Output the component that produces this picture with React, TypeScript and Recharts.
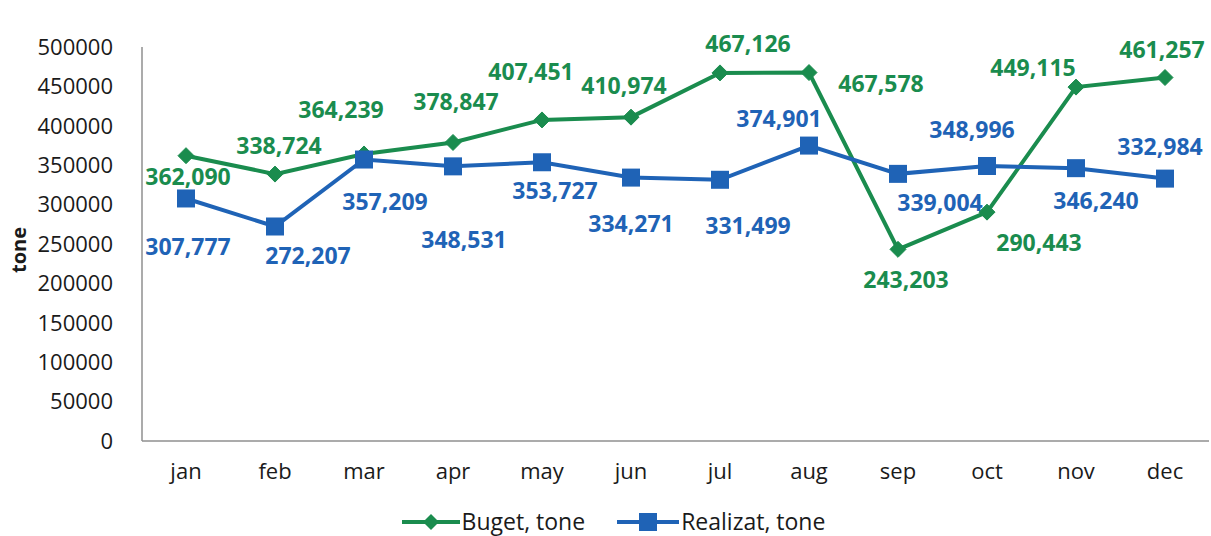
import React from 'react';
import { LineChart, Line, XAxis, YAxis, Legend, Label } from 'recharts';

const months = ['jan', 'feb', 'mar', 'apr', 'may', 'jun', 'jul', 'aug', 'sep', 'oct', 'nov', 'dec'];
const buget = [362090, 338724, 364239, 378847, 407451, 410974, 467126, 467578, 243203, 290443, 449115, 461257];
const realizat = [307777, 272207, 357209, 348531, 353727, 334271, 331499, 374901, 339004, 348996, 346240, 332984];
const yTicks = [0, 50000, 100000, 150000, 200000, 250000, 300000, 350000, 400000, 450000, 500000];

// where each value label sits relative to its point (label placement only)
const bugetLabelDx = [2, 4, -23, 3, -11, -7, 28, 72, 8, 52, -43, -3];
const bugetLabelDy = [20, -29, -45, -41, -49, -32, -30, 10, 30, 30, -20, -29];
const realizatLabelDx = [2, 33, 21, 11, 13, 0, 28, -30, 42, -15, 20, -5];
const realizatLabelDy = [48, 28, 41, 73, 28, 45, 45, -28, 28, -37, 32, -33];

const GREEN = '#1a8c4e';
const BLUE = '#1f63b6';
const FONT = '"Open Sans", sans-serif';

const chartData = months.map((m, i) => ({ month: m, buget: buget[i], realizat: realizat[i] }));

const Diamond = ({ cx, cy }: any) => {
  if (cx == null || cy == null) return null;
  const r = 8;
  return <polygon points={`${cx},${cy - r} ${cx + r},${cy} ${cx},${cy + r} ${cx - r},${cy}`} fill={GREEN} stroke={GREEN} />;
};

const Square = ({ cx, cy }: any) => {
  if (cx == null || cy == null) return null;
  const s = 18;
  return <rect x={cx - s / 2} y={cy - s / 2} width={s} height={s} fill={BLUE} />;
};

const makeLabel = (color: string, dx: number[], dy: number[]) => (props: any) => {
  const { x, y, index, value } = props;
  if (x == null || y == null) return null;
  return (
    <text
      key={`lbl-${color}-${index}`}
      x={x + dx[index]}
      y={y + dy[index]}
      textAnchor="middle"
      dominantBaseline="central"
      fill={color}
      fontFamily={FONT}
      fontWeight={700}
      fontSize={23}
    >
      {Number(value).toLocaleString('en-US')}
    </text>
  );
};

const LegendContent = () => (
  <div style={{ height: 50, boxSizing: 'border-box', display: 'flex', justifyContent: 'center', alignItems: 'flex-end', paddingBottom: 1, fontFamily: FONT, fontSize: 23, color: '#1a1a1a', paddingLeft: 18 }}>
    <svg width={58} height={26} style={{ marginRight: 2 }}>
      <line x1={0} y1={13} x2={58} y2={13} stroke={GREEN} strokeWidth={4} />
      <polygon points="29,5 37,13 29,21 21,13" fill={GREEN} />
    </svg>
    <span style={{ marginRight: 32, lineHeight: '28px' }}>Buget, tone</span>
    <svg width={62} height={26} style={{ marginRight: 2 }}>
      <line x1={0} y1={13} x2={62} y2={13} stroke={BLUE} strokeWidth={4} />
      <rect x={22} y={4} width={18} height={18} fill={BLUE} />
    </svg>
    <span style={{ lineHeight: '28px' }}>Realizat, tone</span>
  </div>
);

export default function App() {
  return (
    <div style={{ position: 'absolute', left: 0, top: 0, width: 1211, height: 536, background: '#fff' }}>
      <LineChart width={1211} height={536} data={chartData} margin={{ top: 47, right: 2, bottom: 0, left: 0 }}>
        <XAxis
          dataKey="month"
          padding={{ left: 44, right: 44 }}
          axisLine={{ stroke: '#8f8f8f', strokeWidth: 1.5 }}
          tickLine={false}
          tickSize={0}
          tickMargin={22}
          height={45}
          interval={0}
          tick={{ fill: '#1a1a1a', fontSize: 22, fontFamily: FONT }}
        />
        <YAxis
          domain={[0, 500000]}
          ticks={yTicks}
          width={142}
          axisLine={{ stroke: '#8f8f8f', strokeWidth: 1.5 }}
          tickLine={false}
          tickSize={0}
          tickMargin={29}
          interval={0}
          tick={{ fill: '#1a1a1a', fontSize: 22, fontFamily: FONT }}
        >
          <Label
            content={({ viewBox }: any) => {
              const cy = viewBox.y + viewBox.height / 2 + 6;
              return (
                <text x={18} y={cy} transform={`rotate(-90 18 ${cy})`} textAnchor="middle" dominantBaseline="central" fontFamily={FONT} fontWeight={700} fontSize={20} fill="#1a1a1a">
                  tone
                </text>
              );
            }}
          />
        </YAxis>
        <Legend verticalAlign="bottom" content={<LegendContent />} />
        <Line
          type="linear"
          dataKey="buget"
          name="Buget, tone"
          stroke={GREEN}
          strokeWidth={4}
          dot={<Diamond />}
          activeDot={false}
          label={makeLabel(GREEN, bugetLabelDx, bugetLabelDy)}
          isAnimationActive={false}
        />
        <Line
          type="linear"
          dataKey="realizat"
          name="Realizat, tone"
          stroke={BLUE}
          strokeWidth={4}
          dot={<Square />}
          activeDot={false}
          label={makeLabel(BLUE, realizatLabelDx, realizatLabelDy)}
          isAnimationActive={false}
        />
      </LineChart>
    </div>
  );
}
